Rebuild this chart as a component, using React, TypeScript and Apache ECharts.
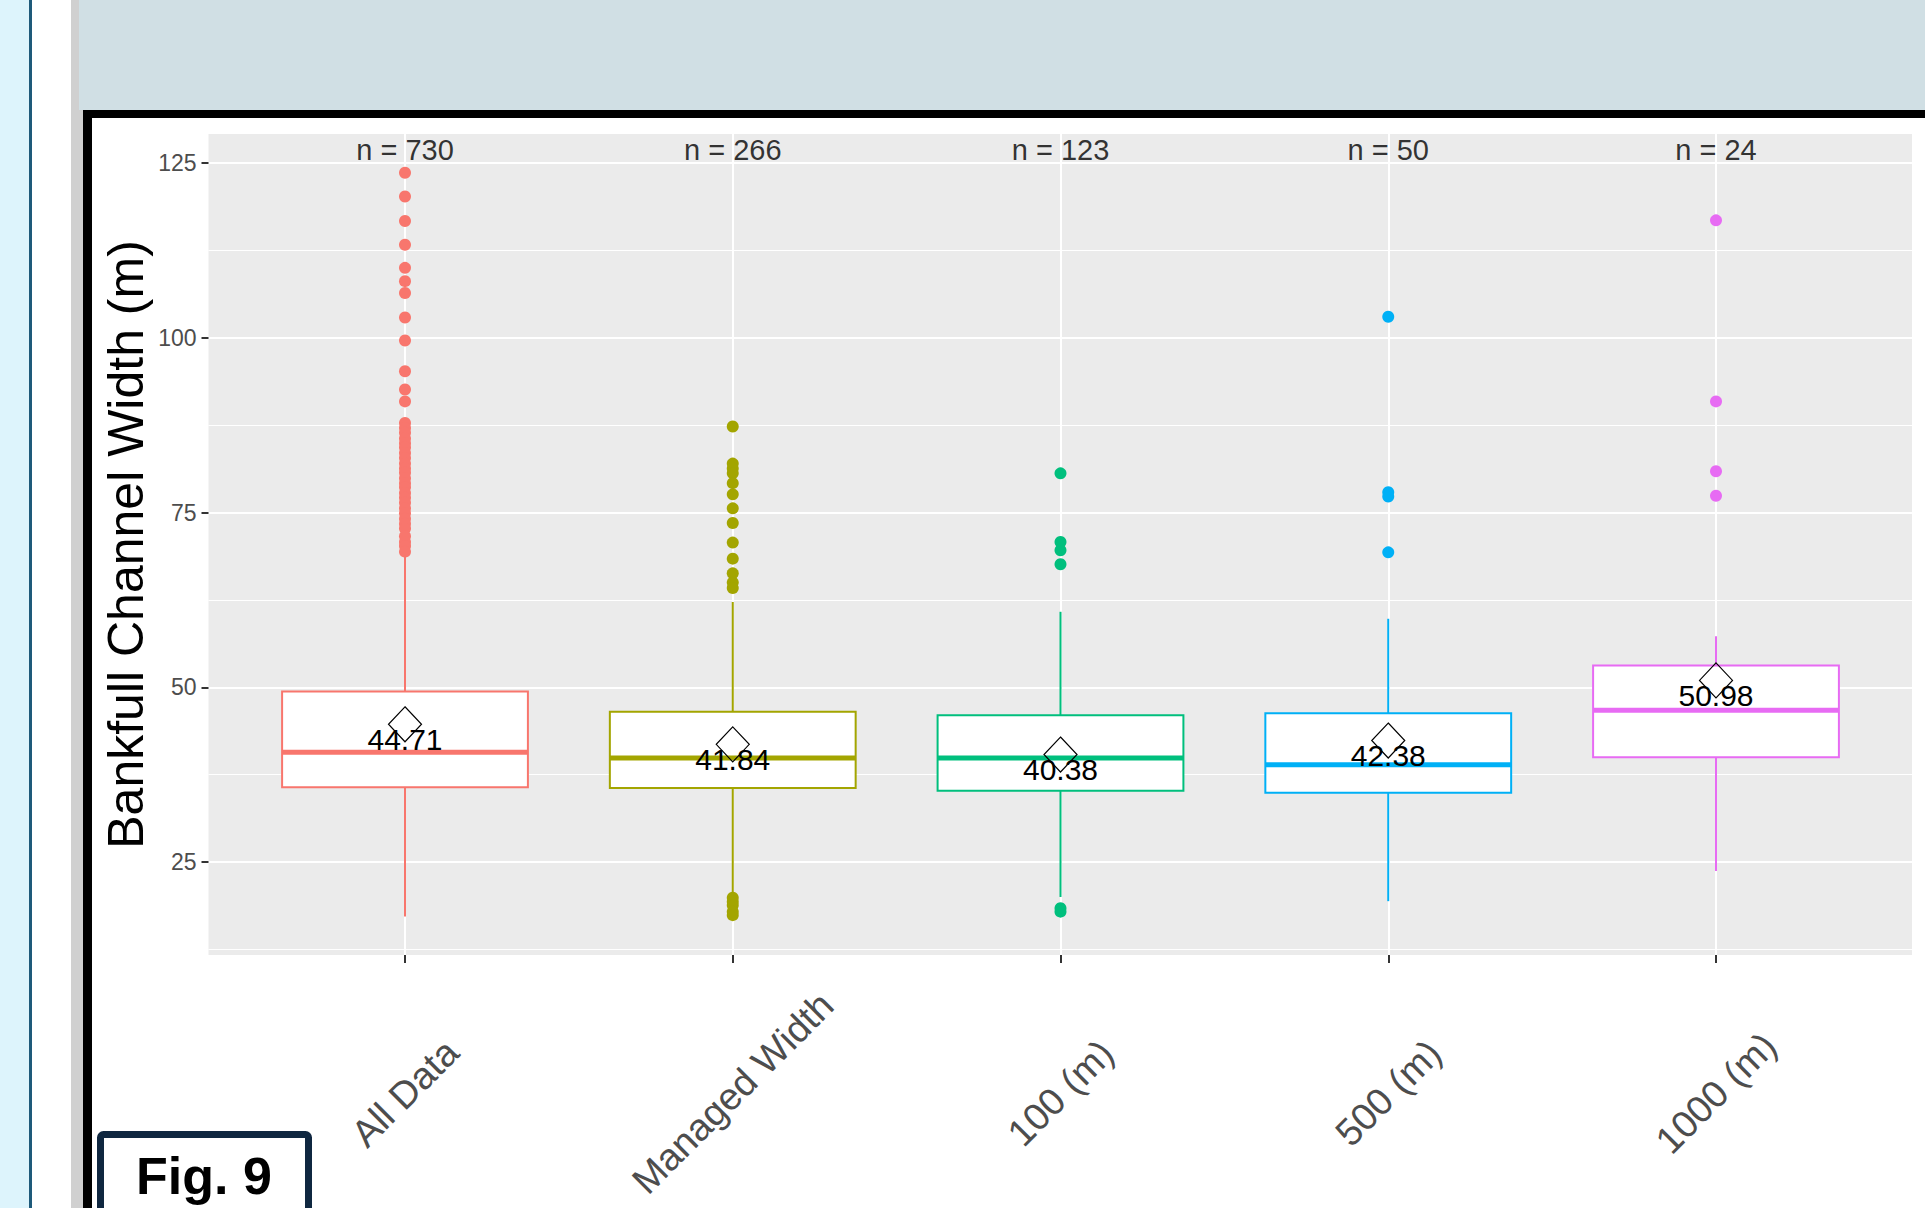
import React, { useEffect, useRef } from "react";
import * as echarts from "echarts";

// ---------- data ----------
const categories = ["All Data", "Managed Width", "100 (m)", "500 (m)", "1000 (m)"];
const counts = [730, 266, 123, 50, 24];
const means = [44.71, 41.84, 40.38, 42.38, 50.98];
const whiskerLow = [17.2, 20.6, 20.0, 19.4, 23.7];
const q1 = [35.7, 35.6, 35.2, 34.9, 40.0];
const medians = [40.7, 39.9, 39.9, 38.9, 46.7];
const q3 = [49.4, 46.5, 46.0, 46.3, 53.1];
const whiskerHigh = [68.8, 62.2, 60.8, 59.8, 57.3];

const outliersAll = [
  123.6, 120.2, 116.7, 113.3, 110.0, 108.1, 106.4, 102.9, 99.6, 95.2, 92.6, 90.9,
  87.8, 87.1, 86.4, 85.6, 84.9, 84.3, 83.5, 82.8, 82.0, 81.3, 80.7, 79.9, 79.2,
  78.6, 77.8, 77.1, 76.4, 75.6, 74.9, 74.1, 73.4, 72.7, 71.6, 70.8, 70.2, 69.4,
];
const outliersManaged = [
  87.3, 82.0, 81.3, 80.6, 79.2, 77.6, 75.6, 73.5, 70.7, 68.4, 66.3, 65.0, 64.2,
  19.9, 19.3, 18.8, 17.9, 17.4,
];
const outliers100 = [80.6, 70.8, 69.6, 67.6, 18.4, 17.9];
const outliers500 = [103.0, 77.9, 77.3, 69.3];
const outliers1000 = [116.8, 90.9, 80.9, 77.4];
const outlierGroups = [outliersAll, outliersManaged, outliers100, outliers500, outliers1000];

const yMajorTicks = [25, 50, 75, 100, 125];
const nLabelY = 126.86;

const colors = ["#F8766D", "#A3A500", "#00BF7D", "#00B0F6", "#E76BF3"];

// ---------- layout constants ----------
const FONT = "'Liberation Sans', Arial, sans-serif";
const PANEL_L = 208.5;
const PANEL_W = 1703.5;
const PANEL_T = 134;
const PANEL_H = 821;
const Y_MIN = 11.7;
const Y_MAX = 129.15;
const PX_PER_UNIT = PANEL_H / (Y_MAX - Y_MIN);
const yPix = (v: number) => PANEL_T + (Y_MAX - v) * PX_PER_UNIT;
const CAT0_X = 405;
const CAT_STEP = 327.75;

export default function App() {
  const ref = useRef<HTMLDivElement>(null);

  useEffect(() => {
    if (!ref.current) return;
    const chart = echarts.init(ref.current, undefined, { renderer: "svg" });

    const boxRows = categories.map((_, i) => [
      i,
      whiskerLow[i],
      q1[i],
      medians[i],
      q3[i],
      whiskerHigh[i],
    ]);

    const outlierData: any[] = [];
    outlierGroups.forEach((g, i) =>
      g.forEach((v) =>
        outlierData.push({ value: [i, v], itemStyle: { color: colors[i], opacity: 1 } })
      )
    );

    const yMajTop = yPix(yMajorTicks[yMajorTicks.length - 1]);
    const yMajBot = yPix(yMajorTicks[0]);
    const yMinTop = yPix(112.5);
    const yMinBot = yPix(12.5);

    const option: any = {
      animation: false,
      backgroundColor: "transparent",
      grid: [
        // 0: data grid
        {
          left: CAT0_X - CAT_STEP / 2,
          top: PANEL_T,
          width: CAT_STEP * 5,
          height: PANEL_H,
          containLabel: false,
        },
        // 1: panel background
        {
          left: PANEL_L,
          top: PANEL_T,
          width: PANEL_W,
          height: PANEL_H,
          show: true,
          backgroundColor: "#EBEBEB",
          borderWidth: 0,
        },
        // 2: major y grid
        { left: PANEL_L, top: yMajTop, width: PANEL_W, height: yMajBot - yMajTop },
        // 3: minor y grid
        { left: PANEL_L, top: yMinTop, width: PANEL_W, height: yMinBot - yMinTop },
        // 4: vertical grid lines + x labels
        {
          left: CAT0_X,
          top: PANEL_T,
          width: CAT_STEP * 4,
          height: PANEL_H,
        },
      ],
      xAxis: [
        { gridIndex: 0, type: "category", data: categories, show: false, boundaryGap: true },
        { gridIndex: 1, type: "value", min: 0, max: 1, show: false },
        { gridIndex: 2, type: "value", min: 0, max: 1, show: false },
        { gridIndex: 3, type: "value", min: 0, max: 1, show: false },
        {
          gridIndex: 4,
          type: "value",
          min: 0,
          max: 4,
          interval: 1,
          z: 1,
          axisLine: { show: false },
          axisTick: { show: true, length: 8, lineStyle: { color: "#333333", width: 2 } },
          splitLine: { show: true, lineStyle: { color: "#FFFFFF", width: 2 } },
          axisLabel: {
            show: true,
            rotate: 45,
            align: "center",
            verticalAlign: "middle",
            margin: 138,
            fontSize: 38,
            fontFamily: FONT,
            color: "#4D4D4D",
            showMinLabel: true,
            showMaxLabel: true,
            formatter: (v: number) => categories[Math.round(v)] ?? "",
          },
        },
      ],
      yAxis: [
        { gridIndex: 0, type: "value", min: Y_MIN, max: Y_MAX, show: false },
        { gridIndex: 1, type: "value", min: 0, max: 1, show: false },
        {
          gridIndex: 2,
          type: "value",
          min: yMajorTicks[0],
          max: yMajorTicks[yMajorTicks.length - 1],
          interval: 25,
          z: 1,
          axisLine: { show: false },
          axisTick: { show: true, length: 7, lineStyle: { color: "#333333", width: 2 } },
          splitLine: { show: true, lineStyle: { color: "#FFFFFF", width: 2 } },
          axisLabel: {
            show: true,
            margin: 12,
            fontSize: 23,
            fontFamily: FONT,
            color: "#4D4D4D",
            showMinLabel: true,
            showMaxLabel: true,
          },
        },
        {
          gridIndex: 3,
          type: "value",
          min: 0,
          max: 100,
          interval: 25,
          z: 1,
          axisLine: { show: false },
          axisTick: { show: false },
          axisLabel: { show: false },
          splitLine: { show: true, lineStyle: { color: "#FFFFFF", width: 1 } },
        },
        { gridIndex: 4, type: "value", min: 0, max: 1, show: false },
      ],
      series: [
        {
          type: "custom",
          xAxisIndex: 0,
          yAxisIndex: 0,
          z: 3,
          data: boxRows,
          encode: { x: 0, y: [1, 2, 3, 4, 5] },
          renderItem: (params: any, api: any) => {
            const i = api.value(0);
            const c = colors[params.dataIndex];
            const pLow = api.coord([i, api.value(1)]);
            const cx = pLow[0];
            const yLow = pLow[1];
            const yQ1 = api.coord([i, api.value(2)])[1];
            const yMed = api.coord([i, api.value(3)])[1];
            const yQ3 = api.coord([i, api.value(4)])[1];
            const yHigh = api.coord([i, api.value(5)])[1];
            const bw = api.size([1, 0])[0] * 0.75;
            return {
              type: "group",
              children: [
                {
                  type: "line",
                  shape: { x1: cx, y1: yHigh, x2: cx, y2: yQ3 },
                  style: { stroke: c, lineWidth: 2 },
                },
                {
                  type: "line",
                  shape: { x1: cx, y1: yQ1, x2: cx, y2: yLow },
                  style: { stroke: c, lineWidth: 2 },
                },
                {
                  type: "rect",
                  shape: { x: cx - bw / 2, y: yQ3, width: bw, height: yQ1 - yQ3 },
                  style: { fill: "#FFFFFF", stroke: c, lineWidth: 2 },
                },
                {
                  type: "line",
                  shape: { x1: cx - bw / 2, y1: yMed, x2: cx + bw / 2, y2: yMed },
                  style: { stroke: c, lineWidth: 5 },
                },
              ],
            };
          },
        },
        {
          type: "scatter",
          xAxisIndex: 0,
          yAxisIndex: 0,
          z: 4,
          symbol: "circle",
          symbolSize: 12,
          itemStyle: { opacity: 1 },
          data: outlierData,
        },
        {
          type: "scatter",
          xAxisIndex: 0,
          yAxisIndex: 0,
          z: 5,
          symbol: "diamond",
          symbolSize: [33, 35],
          itemStyle: {
            color: "rgba(0,0,0,0)",
            borderColor: "#000000",
            borderWidth: 1.2,
            opacity: 1,
          },
          data: means.map((m, i) => [i, m]),
          label: {
            show: true,
            position: "inside",
            offset: [0, 15],
            fontSize: 30,
            fontFamily: FONT,
            color: "#000000",
            textBorderWidth: 0,
            formatter: (p: any) => means[p.dataIndex].toFixed(2),
          },
        },
        {
          type: "scatter",
          xAxisIndex: 0,
          yAxisIndex: 0,
          z: 5,
          symbol: "rect",
          symbolSize: 1,
          itemStyle: { color: "rgba(0,0,0,0)" },
          data: counts.map((_, i) => [i, nLabelY]),
          label: {
            show: true,
            position: "inside",
            fontSize: 29,
            fontFamily: FONT,
            color: "#000000",
            textBorderWidth: 0,
            formatter: (p: any) => `n = ${counts[p.dataIndex]}`,
          },
        },
      ],
      graphic: [
        {
          type: "text",
          x: 126,
          y: PANEL_T + PANEL_H / 2,
          rotation: Math.PI / 2,
          z: 10,
          style: {
            text: "Bankfull Channel Width (m)",
            font: `50px ${FONT}`,
            fill: "#000000",
            align: "center",
            verticalAlign: "middle",
          },
        },
        {
          type: "rect",
          z: 20,
          shape: { x: 100.5, y: 1134.5, width: 208, height: 100, r: 3 },
          style: { fill: "#FFFFFF", stroke: "#0F2740", lineWidth: 7 },
        },
        {
          type: "text",
          z: 21,
          x: 204,
          y: 1176,
          style: {
            text: "Fig. 9",
            font: `bold 52px ${FONT}`,
            fill: "#000000",
            align: "center",
            verticalAlign: "middle",
          },
        },
      ],
    };

    chart.setOption(option);
    return () => chart.dispose();
  }, []);

  const abs = (s: React.CSSProperties): React.CSSProperties => ({ position: "absolute", ...s });

  return (
    <div
      style={{
        position: "fixed",
        left: 0,
        top: 0,
        width: 1925,
        height: 1208,
        background: "#FFFFFF",
        overflow: "hidden",
      }}
    >
      <div style={abs({ left: 0, top: 0, width: 29, height: 1208, background: "#DDF4FC" })} />
      <div style={abs({ left: 29, top: 0, width: 3, height: 1208, background: "#1E5A7A" })} />
      <div style={abs({ left: 71, top: 0, width: 12, height: 1208, background: "#D0D0D0" })} />
      <div style={abs({ left: 79, top: 0, width: 1846, height: 110, background: "#D0DFE4" })} />
      <div style={abs({ left: 83, top: 110, width: 1842, height: 8, background: "#000000" })} />
      <div style={abs({ left: 83, top: 110, width: 8.5, height: 1098, background: "#000000" })} />
      <div ref={ref} style={abs({ left: 0, top: 0, width: 1925, height: 1208 })} />
    </div>
  );
}
